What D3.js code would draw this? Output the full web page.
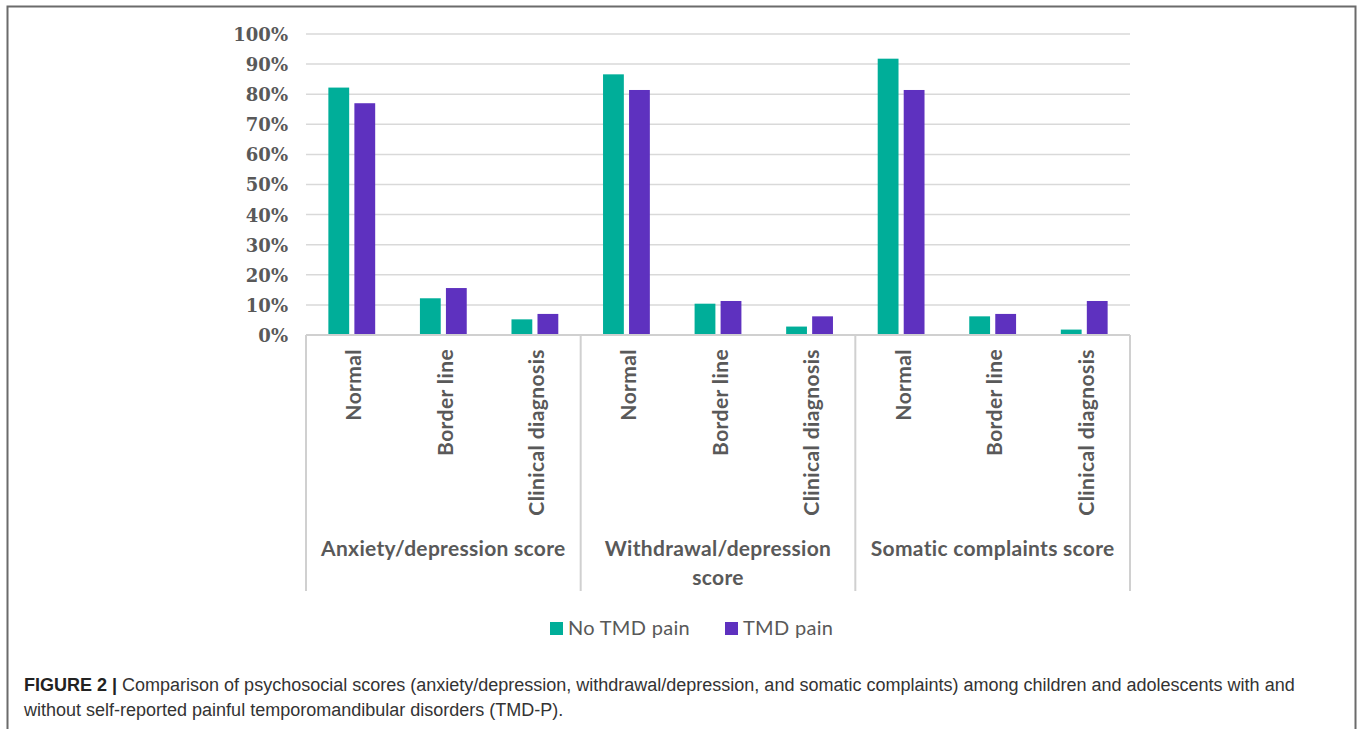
<!DOCTYPE html>
<html>
<head>
<meta charset="utf-8">
<script src="https://cdn.jsdelivr.net/npm/d3@7"></script>
<style>
  html, body { margin: 0; padding: 0; background: #fff; }
  svg { display: block; }
</style>
</head>
<body>
<script>
// Data (percent of children in each group)
var groups     = ["Anxiety/depression score", "Withdrawal/depression score", "Somatic complaints score"],
    categories = ["Normal", "Border line", "Clinical diagnosis"],
    series     = ["No TMD pain", "TMD pain"];

var noTmdPain = [82.2, 12.2, 5.2,   86.6, 10.4, 2.8,   91.8, 6.2, 1.8];
var tmdPain   = [77.0, 15.6, 7.0,   81.4, 11.3, 6.2,   81.4, 7.0, 11.3];

var yTicks = [0, 10, 20, 30, 40, 50, 60, 70, 80, 90, 100];

var groupLines = [["Anxiety/depression score"], ["Withdrawal/depression", "score"], ["Somatic complaints score"]];

var captionBold = "FIGURE 2 |",
    captionLine1 = " Comparison of psychosocial scores (anxiety/depression, withdrawal/depression, and somatic complaints) among children and adolescents with and",
    captionLine2 = "without self-reported painful temporomandibular disorders (TMD-P).";

var colours = { "No TMD pain": "#00ae99", "TMD pain": "#5e31bf" };

// build rows for the bars
var rows = [];
groups.forEach(function(g, gi){
	categories.forEach(function(c, ci){
		var idx = gi * categories.length + ci;
		rows.push({ group: g, cat: c, series: series[0], value: noTmdPain[idx] });
		rows.push({ group: g, cat: c, series: series[1], value: tmdPain[idx] });
	});
});

var W = 1360, H = 729,
    plot = { left: 306, right: 1130, top: 34, bottom: 335 },
    textCol = "#595959";

var svg = d3.select("body").append("svg")
	.attr("width", W)
	.attr("height", H);

// figure frame (open at the bottom edge of the crop)
svg.append("rect")
	.attr("x", 7.5).attr("y", 6.5)
	.attr("width", 1348).attr("height", 760)
	.attr("fill", "none")
	.attr("stroke", "#6b6b6b")
	.attr("stroke-width", 2);

// scales
var x0 = d3.scaleBand().domain(groups).range([plot.left, plot.right]),
    x1 = d3.scaleBand().domain(categories).range([0, x0.bandwidth()]),
    x2 = d3.scaleBand().domain(series).range([0, x1.bandwidth()]).paddingInner(0.2).paddingOuter(0.86),
    y  = d3.scaleLinear().domain([0, 100]).range([plot.bottom, plot.top]);

// gridlines
svg.append("g")
	.attr("class", "grid")
	.selectAll("line")
	.data(yTicks.filter(function(d){ return d > 0; }))
	.enter().append("line")
	.attr("x1", plot.left).attr("x2", plot.right)
	.attr("y1", function(d){ return y(d); })
	.attr("y2", function(d){ return y(d); })
	.attr("stroke", "#d9d9d9")
	.attr("stroke-width", 1.5);

// y axis labels
var yAxis = d3.axisLeft(y)
	.tickValues(yTicks)
	.tickSize(0)
	.tickPadding(18)
	.tickFormat(function(d){ return d + "%"; });

var ya = svg.append("g")
	.attr("class", "yaxis")
	.attr("transform", "translate(" + plot.left + ",0)")
	.call(yAxis);
ya.select(".domain").remove();
ya.selectAll("text")
	.attr("fill", textCol)
	.attr("dy", "0.36em")
	.style("font-family", "'DejaVu Serif', serif")
	.style("font-weight", "bold")
	.style("font-size", "18px");

// bars
svg.append("g")
	.attr("class", "bars")
	.selectAll("rect")
	.data(rows)
	.enter().append("rect")
	.attr("x", function(d){ return x0(d.group) + x1(d.cat) + x2(d.series); })
	.attr("width", x2.bandwidth())
	.attr("y", function(d){ return y(d.value); })
	.attr("height", function(d){ return y(0) - y(d.value); })
	.attr("fill", function(d){ return colours[d.series]; });

// base line and group separators
svg.append("line")
	.attr("x1", plot.left).attr("x2", plot.right)
	.attr("y1", plot.bottom).attr("y2", plot.bottom)
	.attr("stroke", "#d0d0d0").attr("stroke-width", 2);

var seps = groups.map(function(g){ return x0(g); }).concat([plot.right]);
svg.append("g")
	.attr("class", "seps")
	.selectAll("line")
	.data(seps)
	.enter().append("line")
	.attr("x1", function(d){ return d; }).attr("x2", function(d){ return d; })
	.attr("y1", plot.bottom).attr("y2", 591)
	.attr("stroke", "#d0d0d0").attr("stroke-width", 2);

// category labels (rotated)
var catLabels = [];
groups.forEach(function(g){
	categories.forEach(function(c){ catLabels.push({ group: g, cat: c }); });
});

svg.append("g")
	.attr("class", "catlabels")
	.selectAll("text")
	.data(catLabels)
	.enter().append("text")
	.attr("transform", function(d){
		var cx = x0(d.group) + x1(d.cat) + x1.bandwidth() / 2 + 2;
		return "translate(" + cx + "," + 349 + ") rotate(-90)";
	})
	.attr("dy", "0.36em")
	.attr("text-anchor", "end")
	.attr("fill", textCol)
	.style("font-family", "Lato, sans-serif")
	.style("font-weight", "bold")
	.style("font-size", "21px")
	.style("letter-spacing", "0.4px")
	.text(function(d){ return d.cat; });

// group labels
var gl = svg.append("g").attr("class", "grouplabels")
	.selectAll("text")
	.data(groups)
	.enter().append("text")
	.attr("x", function(d){ return x0(d) + x0.bandwidth() / 2; })
	.attr("y", 556)
	.attr("text-anchor", "middle")
	.attr("fill", textCol)
	.style("font-family", "Lato, sans-serif")
	.style("font-weight", "bold")
	.style("font-size", "21px")
	.style("letter-spacing", "0.3px");

gl.selectAll("tspan")
	.data(function(d, i){ return groupLines[i]; })
	.enter().append("tspan")
	.attr("x", function(){ var p = d3.select(this.parentNode).datum(); return x0(p) + x0.bandwidth() / 2; })
	.attr("dy", function(d, i){ return i ? 29 : 0; })
	.text(function(d){ return d; });

// legend
var legendX = [550, 725];
var lg = svg.append("g").attr("class", "legend")
	.selectAll("g")
	.data(series)
	.enter().append("g")
	.attr("transform", function(d, i){ return "translate(" + legendX[i] + ",622)"; });

lg.append("rect")
	.attr("width", 13).attr("height", 13)
	.attr("fill", function(d){ return colours[d]; });

lg.append("text")
	.attr("x", 18).attr("y", 13)
	.attr("fill", textCol)
	.style("font-family", "Lato, sans-serif")
	.style("font-size", "20px")
	.style("letter-spacing", "0.3px")
	.text(function(d){ return d; });

// caption
var cap = svg.append("text")
	.attr("x", 24).attr("y", 691)
	.style("font-family", "'Liberation Sans', Arial, sans-serif")
	.style("font-size", "18px");

cap.append("tspan")
	.attr("fill", "#222")
	.style("font-weight", "bold")
	.text(captionBold);
cap.append("tspan")
	.attr("fill", "#333")
	.text(captionLine1);

svg.append("text")
	.attr("x", 24).attr("y", 716)
	.attr("fill", "#333")
	.style("font-family", "'Liberation Sans', Arial, sans-serif")
	.style("font-size", "18px")
	.text(captionLine2);
</script>
</body>
</html>
